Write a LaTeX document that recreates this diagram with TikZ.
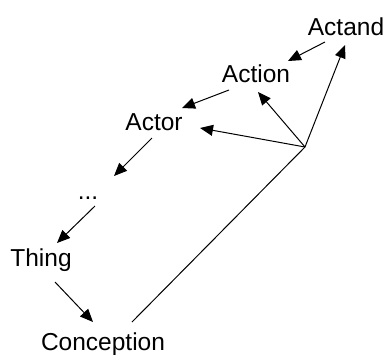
\documentclass[tikz,border=0pt]{standalone}
\usepackage{fontspec}
\setmainfont{Liberation Sans}
\usetikzlibrary{arrows.meta,calc}
\begin{document}
\begin{tikzpicture}[x=1pt,y=-1pt,
  lbl/.style={anchor=base,inner sep=0pt,font=\fontsize{24.5pt}{29pt}\selectfont},
  arr/.style={-{Triangle[length=13pt,width=11pt]},line width=1pt},
  ln/.style={line width=1pt}]
\useasboundingbox (0,0) rectangle (388,354);
\node[lbl] (actand) at (346,35) {Actand};
\node[lbl] (action) at (256,82) {Action};
\node[lbl] (actor) at (154,130) {Actor};
\node[lbl] (dots) at (88,199) {...};
\node[lbl] (thing) at (41,266) {Thing};
\node[lbl] (conc) at (103,350) {Conception};
\coordinate (j) at (305,147);
\draw[arr] ($(actand.base)+(-21,7)$) -- ($(action.base)+(32,-21)$);
\draw[arr] ($(action.base)+(-27,8)$) -- ($(actor.base)+(28,-22)$);
\draw[arr] (j) -- ($(actand.base)+(-1,10)$);
\draw[arr] (j) -- ($(action.base)+(2,10)$);
\draw[arr] (j) -- ($(actor.base)+(46,-2)$);
\draw[arr] ($(actor.base)+(-2,8)$) -- ($(dots.base)+(26,-23)$);
\draw[arr] ($(dots.base)+(7,7)$) -- ($(thing.base)+(16,-23)$);
\draw[arr] ($(thing.base)+(14,16)$) -- ($(conc.base)+(-10,-28)$);
\draw[ln] ($(conc.base)+(29,-28)$) -- (j);
\end{tikzpicture}
\end{document}
